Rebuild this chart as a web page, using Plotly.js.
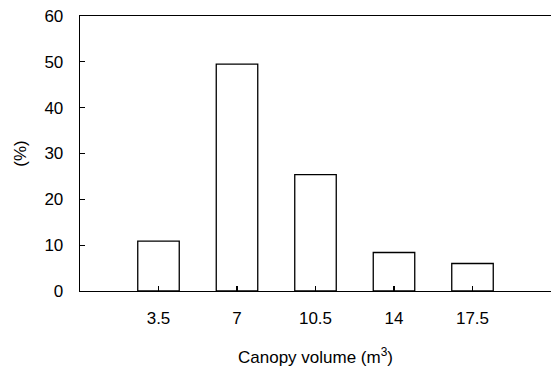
<!DOCTYPE html>
<html><head><meta charset="utf-8">
<script src="https://cdn.plot.ly/plotly-3.0.1.min.js"></script>
<style>body{margin:0;background:#fff}#c{width:551px;height:372px}</style>
</head><body><div id="c"></div>
<script>
const canopyVolume = [3.5, 7, 10.5, 14, 17.5];
const percent = [10.9, 49.5, 25.4, 8.4, 6.0];
const yTicks = [0, 10, 20, 30, 40, 50, 60];

const trace = {
  type: 'bar', x: canopyVolume, y: percent, width: 1.85,
  marker: {color: '#ffffff', line: {color: '#000000', width: 1.3}},
  hoverinfo: 'skip'
};
const layout = {
  width: 551, height: 372,
  margin: {l: 80, r: 0, t: 16, b: 81, pad: 0},
  paper_bgcolor: '#fff', plot_bgcolor: '#fff',
  font: {family: 'Liberation Sans, Arial, sans-serif', size: 17, color: '#000'},
  showlegend: false,
  xaxis: {
    range: [0, 21], tickvals: canopyVolume, ticktext: canopyVolume.map(String),
    ticks: 'inside', ticklen: 5, tickcolor: '#000', tickwidth: 1.2,
    showline: true, linecolor: '#000', linewidth: 1.3, mirror: true,
    showgrid: false, zeroline: false, ticklabelstandoff: 11,
    title: {text: 'Canopy volume (m<sup>3</sup>)', standoff: 24, font: {size: 17}}
  },
  yaxis: {
    range: [0, 60], tickvals: yTicks,
    ticks: 'inside', ticklen: 5, tickcolor: '#000', tickwidth: 1.2,
    showline: true, linecolor: '#000', linewidth: 1.3,
    showgrid: false, zeroline: false, ticklabelstandoff: 12,
    title: {text: '(%)', standoff: 13, font: {size: 17}}
  }
};
Plotly.newPlot('c', [trace], layout, {staticPlot: true});
</script></body></html>
